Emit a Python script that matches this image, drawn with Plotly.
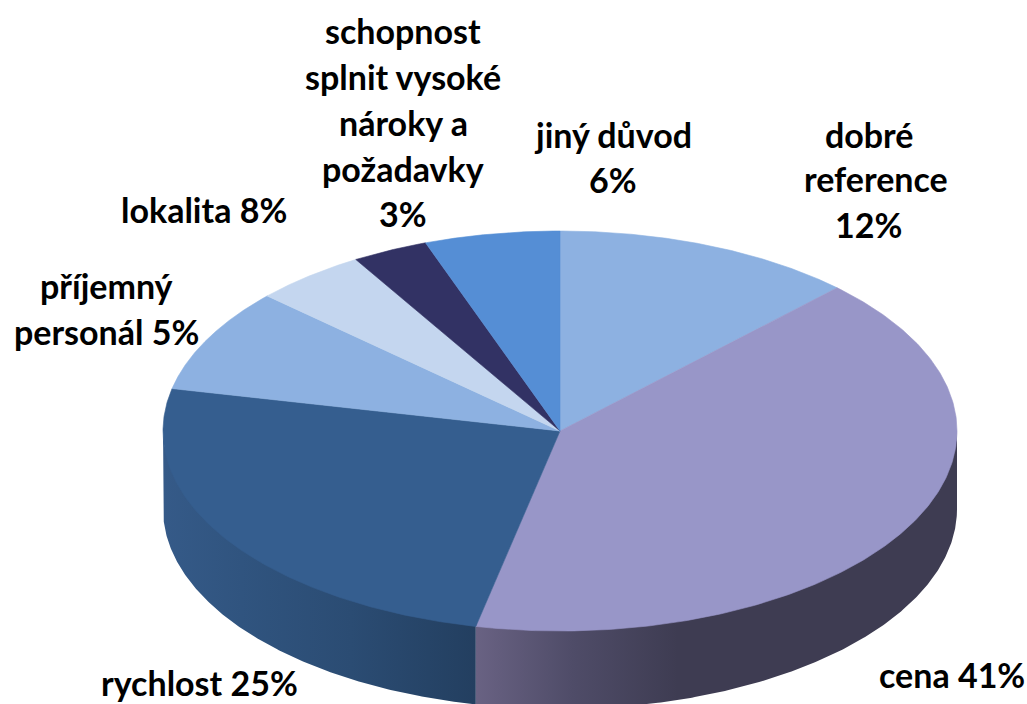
import numpy as np
import plotly.graph_objects as go

categories = ["dobré reference", "cena", "rychlost", "lokalita", "příjemný personál",
              "schopnost splnit vysoké nároky a požadavky", "jiný důvod"]
shares = [12.3, 41.1, 25.0, 8.4, 4.6, 3.1, 5.5]
top_colors = ["#8DB1E1", "#9896C8", "#355E8F", "#8DB1E1", "#C4D6EF", "#323264", "#558ED5"]

# label lines (text, centre x, centre y) in picture layout
label_layout = [
    ("schopnost", 403, 30), ("splnit vysoké", 403, 76), ("nároky a", 403, 122),
    ("požadavky", 403, 168), ("3%", 403, 213),
    ("jiný důvod", 613, 134), ("6%", 613, 179),
    ("dobré", 869, 134), ("reference", 876, 178), ("12%", 868, 224),
    ("lokalita 8%", 204, 209),
    ("příjemný", 106, 285), ("personál 5%", 106, 331),
    ("rychlost 25%", 199, 682),
    ("cena 41%", 952, 674),
]

CX, CY, RX, RY, DEPTH = 560, 431, 397, 200, 78


def rim(a0, a1, dy=0.0, n=240):
    t = np.radians(np.linspace(a0, a1, n))
    return CX + RX * np.sin(t), CY - RY * np.cos(t) + dy


def wall(a0, a1):
    # the upper edge is tucked under the top face so no seam shows
    x0, y0 = rim(a0, a1, -3)
    x1, y1 = rim(a1, a0, DEPTH)
    return np.r_[x0, x1, x0[0]], np.r_[y0, y1, y0[0]]


angles = np.cumsum([0] + shares) * 3.6
fig = go.Figure()

# side walls (only the front half of the cylinder is visible)
x, y = wall(angles[2], 270)
fig.add_trace(go.Scatter(x=x, y=y, mode="lines", fill="toself", line=dict(width=0), hoverinfo="skip",
                         fillgradient=dict(type="horizontal",
                                           colorscale=[[0, "#355A88"], [0.25, "#30547F"], [0.6, "#2B4C73"], [1, "#233F60"]])))
x, y = wall(90, angles[2])
fig.add_trace(go.Scatter(x=x, y=y, mode="lines", fill="toself", line=dict(width=0), hoverinfo="skip",
                         fillgradient=dict(type="horizontal",
                                           colorscale=[[0, "#696283"], [0.2, "#4F4C68"], [0.42, "#3E3C52"], [1, "#3E3C52"]])))

for i, (cat, c) in enumerate(zip(categories, top_colors)):
    ex, ey = rim(angles[i], angles[i + 1])
    fig.add_trace(go.Scatter(x=np.r_[CX, ex, CX], y=np.r_[CY, ey, CY], mode="lines", fill="toself",
                             fillcolor=c, line=dict(width=0.6, color=c), name=cat, hoverinfo="skip"))

annotations = [dict(x=lx, y=ly, text=t, showarrow=False, xanchor="center", yanchor="middle",
                    font=dict(family="Lato", size=34, color="#000000", weight="bold"))
               for t, lx, ly in label_layout]

fig.update_layout(
    width=1027, height=704, margin=dict(l=0, r=0, t=0, b=0), showlegend=False,
    paper_bgcolor="white", plot_bgcolor="white", annotations=annotations,
    xaxis=dict(range=[0, 1027], visible=False, fixedrange=True),
    yaxis=dict(range=[704, 0], visible=False, fixedrange=True),
)
fig.write_html("out.html", config=dict(displayModeBar=False),
               post_script="document.body.style.margin='0';")
